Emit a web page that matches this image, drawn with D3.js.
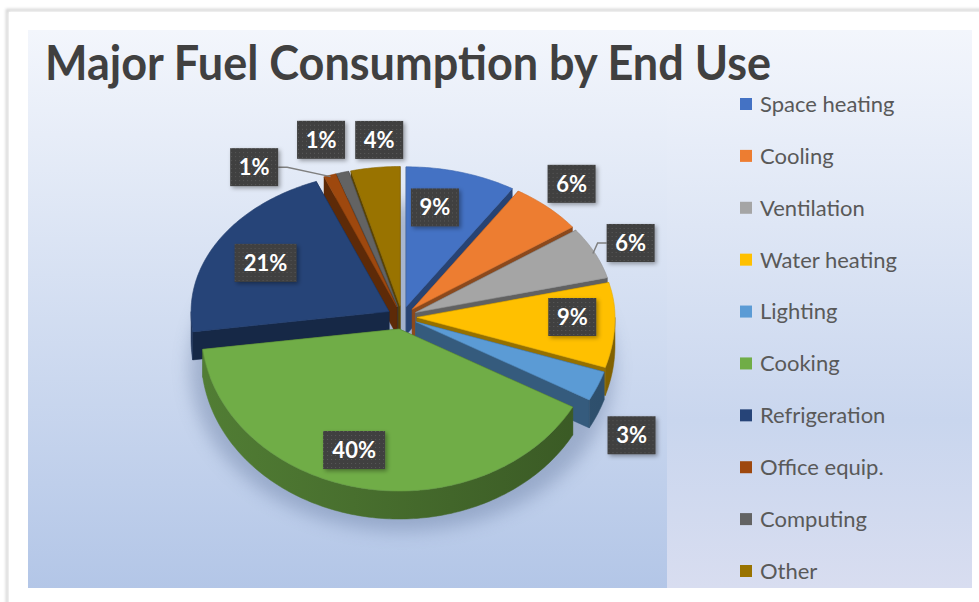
<!DOCTYPE html>
<html>
<head>
<meta charset="utf-8">
<script src="https://cdn.jsdelivr.net/npm/d3@7"></script>
<style>
  body { margin: 0; background: #fff; }
  svg { display: block; font-family: Lato, "Open Sans", sans-serif; }
</style>
</head>
<body>
<svg id="chart" width="979" height="602"></svg>
<script>
const categories = ["Space heating", "Cooling", "Ventilation", "Water heating", "Lighting",
  "Cooking", "Refrigeration", "Office equip.", "Computing", "Other"];
const shares = [9, 6, 6, 9, 3, 40, 21, 1, 1, 4];
const colors = ["#4472c4", "#ed7d31", "#a5a5a5", "#ffc000", "#5b9bd5",
  "#70ad47", "#264478", "#9e480e", "#636363", "#997300"];
const labelText = shares.map((d) => d + "%");

// where each data label sits: radius factor, angle shift in degrees, leader line
const labelPlace = [
  { r: 0.80, da: -4.2, leader: false },
  { r: 1.28, da: -1.2, leader: false },
  { r: 1.27, da: 0.6, leader: true },
  { r: 0.86, da: -1.8, leader: false },
  { r: 1.37, da: 8.8, leader: false },
  { r: 0.856, da: 5.6, leader: false },
  { r: 0.79, da: -1.3, leader: false },
  { r: 1.305, da: -15.1, leader: true },
  { r: 1.33, da: -1.7, leader: false },
  { r: 1.27, da: 2, leader: false },
];

const svg = d3.select("#chart");
const defs = svg.append("defs");

// background gradients
const bg = defs.append("linearGradient").attr("id", "bg").attr("x1", 0).attr("y1", 0).attr("x2", 0).attr("y2", 1);
bg.append("stop").attr("offset", 0).attr("stop-color", "#f3f6fc");
bg.append("stop").attr("offset", 1).attr("stop-color", "#b3c6e7");
const lg = defs.append("linearGradient").attr("id", "lg").attr("x1", 0).attr("y1", 0).attr("x2", 0).attr("y2", 1);
lg.append("stop").attr("offset", 0).attr("stop-color", "#f3f6fc");
lg.append("stop").attr("offset", 0.7).attr("stop-color", "#c9d6ee");
lg.append("stop").attr("offset", 1).attr("stop-color", "#d8ddf0");

const blur = defs.append("filter").attr("id", "blur").attr("x", "-30%").attr("y", "-30%").attr("width", "160%").attr("height", "160%");
blur.append("feGaussianBlur").attr("stdDeviation", 9);
const cardShadow = defs.append("filter").attr("id", "cardShadow");
cardShadow.append("feGaussianBlur").attr("stdDeviation", 1.5);

const drop = defs.append("filter").attr("id", "drop").attr("x", "-30%").attr("y", "-30%").attr("width", "170%").attr("height", "170%");
drop.append("feDropShadow").attr("dx", 2).attr("dy", 2).attr("stdDeviation", 2)
  .attr("flood-color", "#000").attr("flood-opacity", 0.35);

const dots = defs.append("pattern").attr("id", "dots").attr("width", 4).attr("height", 4)
  .attr("patternUnits", "userSpaceOnUse");
dots.append("rect").attr("width", 4).attr("height", 4).attr("fill", "#3f3f3f");
dots.append("rect").attr("x", 1).attr("y", 1).attr("width", 1).attr("height", 1).attr("fill", "#5c5c5c");

// card
svg.append("rect").attr("x", 7).attr("y", 10).attr("width", 990).attr("height", 610)
  .attr("fill", "none").attr("stroke", "#c8c8c8").attr("stroke-width", 2).attr("filter", "url(#cardShadow)");
svg.append("rect").attr("x", 9).attr("y", 12).attr("width", 980).attr("height", 600).attr("fill", "#fff");
svg.append("rect").attr("x", 28).attr("y", 30).attr("width", 944).attr("height", 558).attr("fill", "url(#bg)");
svg.append("rect").attr("x", 667).attr("y", 30).attr("width", 305).attr("height", 558).attr("fill", "url(#lg)");

svg.append("text").attr("x", 45).attr("y", 80)
  .attr("font-size", 47).attr("font-weight", 700).attr("fill", "#404040")
  .attr("textLength", 726).attr("lengthAdjust", "spacingAndGlyphs")
  .text("Major Fuel Consumption by End Use");

// 3D pie geometry (front half drawn a bit taller for perspective)
const cx = 402, cy = 317, rx = 198, ryBack = 140, ryFront = 162, depth = 28, explode = 15;
const ryAt = (ang) => (Math.cos(ang) >= 0 ? ryBack : ryFront);
const arcs = d3.pie().sort(null).value((d) => d)(shares);

arcs.forEach((a, i) => {
  const mid = (a.startAngle + a.endAngle) / 2;
  a.color = colors[i];
  a.mid = mid;
  a.ox = explode * Math.sin(mid);
  a.oy = -explode * (ryAt(mid) / rx) * Math.cos(mid);
});

const pt = (a, ang, f, dz = 0) => [
  cx + a.ox + rx * f * Math.sin(ang),
  cy + a.oy - ryAt(ang) * f * Math.cos(ang) + dz,
];
const arcPts = (a, a0, a1, dz) => {
  const n = Math.max(2, Math.ceil(((a1 - a0) * 180) / Math.PI));
  return d3.range(n + 1).map((j) => pt(a, a0 + ((a1 - a0) * j) / n, 1, dz));
};
const line = d3.line();

// pie shadow
svg.append("ellipse").attr("cx", cx).attr("cy", cy + depth + 22)
  .attr("rx", rx + 14).attr("ry", ryFront + 2)
  .attr("fill", "#5d7299").attr("opacity", 0.4).attr("filter", "url(#blur)");

// walls
const walls = [];
arcs.forEach((a, i) => {
  const lo = Math.max(a.startAngle, Math.PI / 2);
  const hi = Math.min(a.endAngle, (3 * Math.PI) / 2);
  if (hi > lo) {
    const top = arcPts(a, lo, hi, 0);
    const bot = arcPts(a, lo, hi, depth).reverse();
    const p = top.concat(bot);
    walls.push({ i, kind: "outer", p, key: d3.mean(p, (q) => q[1]) });
  }
  [a.startAngle, a.endAngle].forEach((ang) => {
    const p = [pt(a, ang, 0), pt(a, ang, 1), pt(a, ang, 1, depth), pt(a, ang, 0, depth)];
    walls.push({ i, kind: "side", p, key: d3.mean(p, (q) => q[1]) });
  });
});
walls.sort((m, n) => m.key - n.key);

arcs.forEach((a, i) => {
  const g = defs.append("linearGradient").attr("id", "wall" + i)
    .attr("gradientUnits", "userSpaceOnUse")
    .attr("x1", cx - rx).attr("x2", cx + rx).attr("y1", 0).attr("y2", 0);
  g.append("stop").attr("offset", 0).attr("stop-color", d3.color(a.color).darker(0.9));
  g.append("stop").attr("offset", 1).attr("stop-color", d3.color(a.color).darker(1.9));
});

svg.append("g").selectAll("path").data(walls).join("path")
  .attr("d", (w) => line(w.p) + "Z")
  .attr("fill", (w) => w.kind === "outer" ? `url(#wall${w.i})` : d3.color(colors[w.i]).darker(1.5))
  .attr("stroke", (w) => w.kind === "outer" ? `url(#wall${w.i})` : d3.color(colors[w.i]).darker(1.5))
  .attr("stroke-width", 0.5);

// tops
svg.append("g").selectAll("path").data(arcs).join("path")
  .attr("d", (a) => line([pt(a, 0, 0)].concat(arcPts(a, a.startAngle, a.endAngle, 0))) + "Z")
  .attr("fill", (a) => a.color)
  .attr("stroke", (a) => d3.color(a.color).darker(0.3))
  .attr("stroke-width", 0.6);

// data labels
const labels = svg.append("g");
arcs.forEach((a, i) => {
  const lp = labelPlace[i];
  const ang = a.mid + (lp.da * Math.PI) / 180;
  const x = cx + rx * lp.r * Math.sin(ang);
  const y = cy - ryAt(ang) * lp.r * Math.cos(ang);
  const w = labelText[i].length > 2 ? 62 : 48, h = 38;
  if (lp.leader) {
    const s = pt(a, a.mid, 0.99);
    const side = s[0] > x ? 1 : -1;
    const ex = x + (side * w) / 2;
    labels.append("path")
      .attr("d", line([s, [ex + side * 9, y], [ex, y]]))
      .attr("fill", "none").attr("stroke", "#7f7f7f").attr("stroke-width", 1.5);
  }
  const g = labels.append("g").attr("transform", `translate(${x},${y})`);
  g.append("rect").attr("x", -w / 2).attr("y", -h / 2).attr("width", w).attr("height", h)
    .attr("fill", "url(#dots)").attr("filter", "url(#drop)");
  g.append("text").attr("text-anchor", "middle").attr("dy", "0.36em")
    .attr("font-size", 22).attr("font-weight", 700).attr("fill", "#fff")
    .text(labelText[i]);
});

// legend
const ly = d3.scalePoint().domain(categories).range([104, 571]);
const legend = svg.append("g").selectAll("g").data(categories).join("g")
  .attr("transform", (d) => `translate(740,${ly(d)})`);
legend.append("rect").attr("y", -6).attr("width", 12).attr("height", 12)
  .attr("fill", (d, i) => colors[i]);
legend.append("text").attr("x", 20).attr("dy", "0.36em")
  .attr("font-size", 22).attr("fill", "#595959").text((d) => d);
</script>
</body>
</html>
